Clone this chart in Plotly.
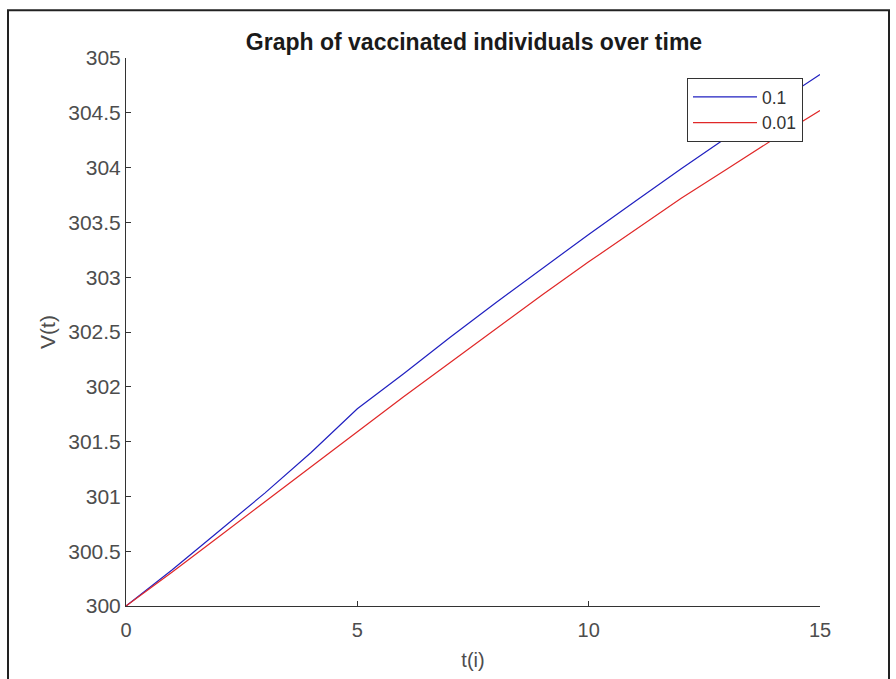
import plotly.graph_objects as go

t = [0, 1, 2, 3, 4, 5, 6, 7, 8, 9, 10, 11, 12, 13, 14, 15]
v_01 = [300, 300.33, 300.68, 301.03, 301.40, 301.80, 302.12, 302.45, 302.77, 303.08,
        303.39, 303.69, 303.99, 304.28, 304.57, 304.85]
v_001 = [300, 300.31, 300.63, 300.95, 301.27, 301.59, 301.91, 302.22, 302.53, 302.84,
         303.14, 303.43, 303.72, 303.99, 304.26, 304.52]
series_names = ["0.1", "0.01"]

x_ticks = [0, 5, 10, 15]
y_ticks = [300, 300.5, 301, 301.5, 302, 302.5, 303, 303.5, 304, 304.5, 305]
y_tick_text = ["300", "300.5", "301", "301.5", "302", "302.5", "303", "303.5", "304", "304.5", "305"]

W, H = 896, 679
L, R, T, B = 126, 76, 58, 71
pw, ph = W - L - R, H - T - B

def px(x):
    return (x - L) / pw

def py(y):
    return (H - B - y) / ph

fig = go.Figure()
fig.add_trace(go.Scatter(x=t, y=v_01, mode="lines", name=series_names[0],
                         line=dict(color="#2020c0", width=1.2)))
fig.add_trace(go.Scatter(x=t, y=v_001, mode="lines", name=series_names[1],
                         line=dict(color="#e02828", width=1.2)))

font_family = "Liberation Sans, Arial, sans-serif"
fig.update_layout(
    width=W, height=H,
    margin=dict(l=L, r=R, t=T, b=B),
    paper_bgcolor="white", plot_bgcolor="white",
    font=dict(family=font_family, color="#4d4d4d", size=20),
    title=dict(text="<b>Graph of vaccinated individuals over time</b>",
               x=474 / W, xanchor="center",
               y=1 - 42 / H, yanchor="middle",
               font=dict(size=23, color="#1a1a1a", family=font_family)),
    showlegend=True,
    legend=dict(x=px(803), y=py(78), xanchor="right", yanchor="top",
                bgcolor="white", bordercolor="#333333", borderwidth=1,
                font=dict(size=17.5, color="#333333", family=font_family),
                tracegroupgap=0, itemwidth=64),
    xaxis=dict(range=[0, 15], tickvals=x_ticks, ticks="inside", ticklen=5,
               tickcolor="#333333", showline=True, linecolor="#333333", linewidth=1,
               showgrid=False, zeroline=False, mirror=False, ticklabelstandoff=6,
               tickfont=dict(size=20, color="#4d4d4d"),
               title=dict(text="t(i)", standoff=12, font=dict(size=20, color="#4d4d4d"))),
    yaxis=dict(range=[300, 305], tickvals=y_ticks, ticktext=y_tick_text, ticks="inside",
               ticklen=5, tickcolor="#333333", showline=True, linecolor="#333333",
               linewidth=1, showgrid=False, zeroline=False, mirror=False,
               tickfont=dict(size=21, color="#4d4d4d"),
               title=dict(text="V(t)", standoff=6, font=dict(size=21, color="#4d4d4d"))),
    shapes=[dict(type="rect", xref="paper", yref="paper",
                 x0=px(8), x1=px(889), y0=py(700), y1=py(10),
                 line=dict(color="#222222", width=2), fillcolor="rgba(0,0,0,0)",
                 layer="above")],
)

fig.write_html("out.html", config={"displayModeBar": False},
               post_script="document.body.style.margin='0';document.body.style.overflow='hidden';")
